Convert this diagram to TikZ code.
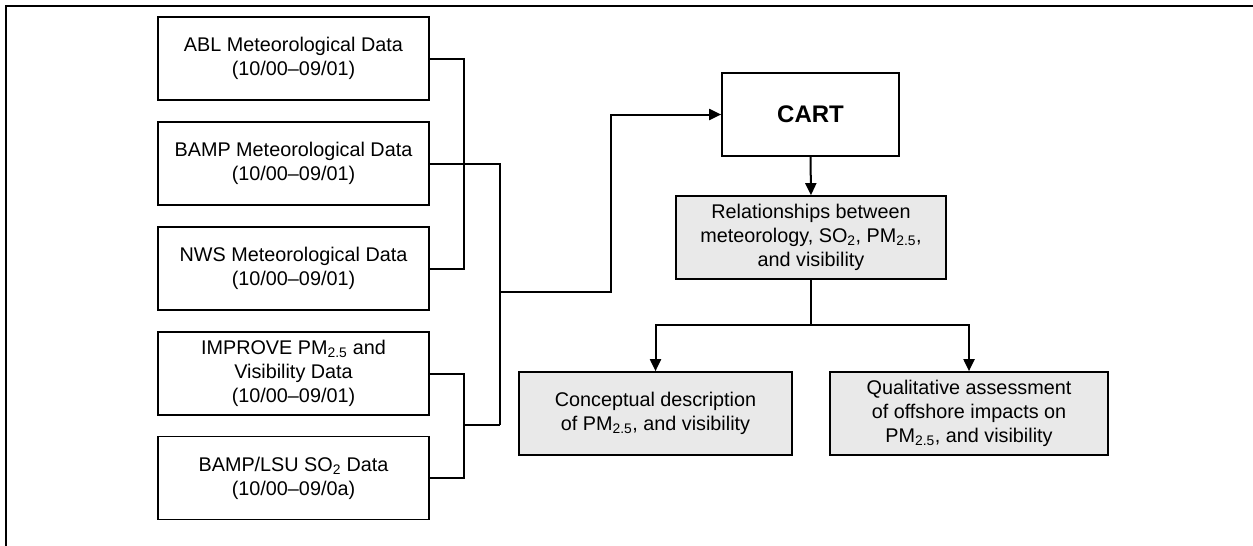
\documentclass[tikz,border=0pt]{standalone}
\usepackage{fontspec}
\setmainfont{Liberation Sans}
\usetikzlibrary{arrows.meta}
\definecolor{boxgray}{HTML}{E9E9E9}
\begin{document}
\begin{tikzpicture}[x=1pt,y=-1pt,
  databox/.style={draw=black,line width=1.7pt,fill=white,minimum width=271pt,minimum height=83pt,inner sep=0pt,align=center,font=\fontsize{19.8}{24}\selectfont},
  graybox/.style={draw=black,line width=1.7pt,fill=boxgray,minimum height=83pt,inner sep=0pt,align=center,font=\fontsize{19.8}{24}\selectfont},
  conn/.style={line width=2pt},
  arr/.style={line width=2pt,-{Triangle[length=12pt,width=11pt]}}]
\useasboundingbox (0,0) rectangle (1253,546);
\draw[line width=2.4pt] (6,546) -- (6,6) -- (1253,6);

\node[databox] (abl) at (293.5,58.5) {ABL Meteorological Data\\(10/00--09/01)};
\node[databox] (bamp) at (293.5,163.5) {BAMP Meteorological Data\\(10/00--09/01)};
\node[databox] (nws) at (293.5,268.5) {NWS Meteorological Data\\(10/00--09/01)};
\node[databox] (improve) at (293.5,373.5) {IMPROVE PM\textsubscript{2.5} and\\Visibility Data\\(10/00--09/01)};
\node[databox] (lsu) at (293.5,478) {BAMP/LSU SO\textsubscript{2} Data\\(10/00--09/0a)};

\node[databox,minimum width=177pt,font=\fontsize{24}{28}\bfseries] (cart) at (810.5,114.5) {CART};
\node[graybox,minimum width=270pt] (rel) at (811,237.5) {Relationships between\\meteorology, SO\textsubscript{2}, PM\textsubscript{2.5},\\and visibility};
\node[graybox,minimum width=273pt] (conc) at (655.5,413.5) {Conceptual description\\of PM\textsubscript{2.5}, and visibility};
\node[graybox,minimum width=278pt] (qual) at (969,413.5) {Qualitative assessment\\of offshore impacts on\\PM\textsubscript{2.5}, and visibility};

\coordinate (xa) at (464,0);
\coordinate (jn) at (500,425);
\coordinate (jl) at (464,425);
\coordinate (jc) at (500,292);
\coordinate (bend) at (611,114.5);
\coordinate (split) at (811,325);

\draw[conn] (abl.east) -- (abl.east -| xa) |- (nws.east);
\draw[conn] (bamp.east) -| (jn);
\draw[conn] (improve.east) -- (improve.east -| xa) |- (lsu.east);
\draw[conn] (jl) -- (jn);
\draw[arr] (jc) -| (bend) -- (cart.west);
\draw[arr] (cart.south) -- (rel.north);
\draw[conn] (rel.south) -- (split);
\draw[arr] (split) -| (conc.north);
\draw[arr] (split) -| (qual.north);
\end{tikzpicture}
\end{document}
